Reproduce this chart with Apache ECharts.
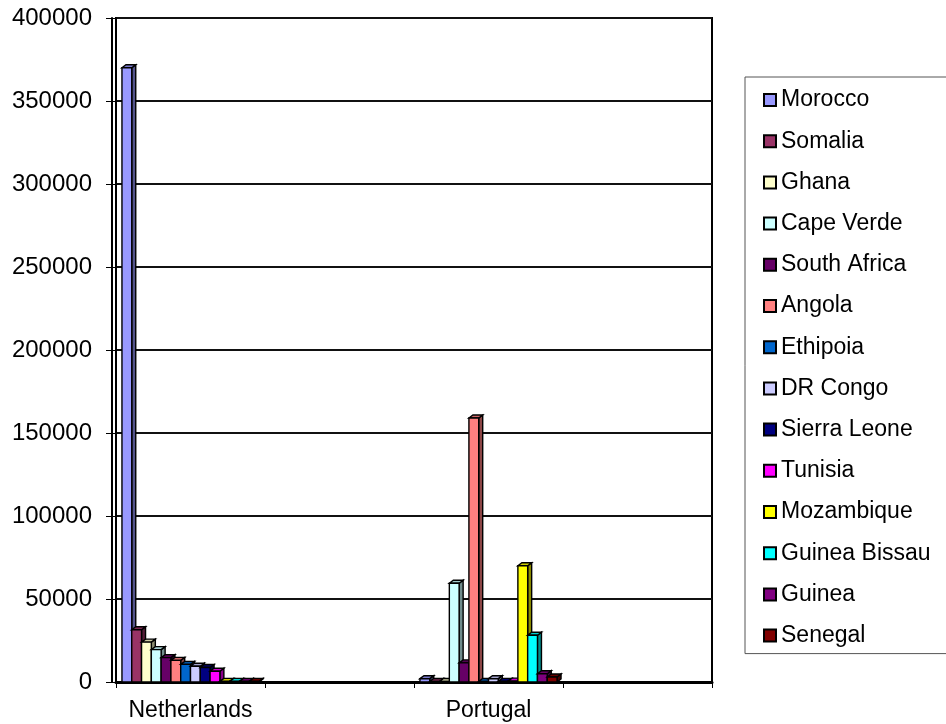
<!DOCTYPE html>
<html>
<head>
<meta charset="utf-8">
<script src="https://cdn.jsdelivr.net/npm/echarts@6/dist/echarts.min.js"></script>
<style>
  html, body { margin: 0; padding: 0; background: #fff; }
  #chart { width: 946px; height: 724px; }
</style>
</head>
<body>
<div id="chart"></div>
<script>
// Host countries on the category axis (unlabelled slots keep the spacing)
const categories = ['Netherlands', '', 'Portugal', ''];

// Countries of origin, one series each
const countries = ['Morocco', 'Somalia', 'Ghana', 'Cape Verde', 'South Africa', 'Angola',
  'Ethipoia', 'DR Congo', 'Sierra Leone', 'Tunisia', 'Mozambique', 'Guinea Bissau',
  'Guinea', 'Senegal'];

// Population counts per host country, in the same order as countries
const netherlands = [370000, 31500, 24000, 19500, 14700, 13000, 10600, 9500, 8700, 6500,
  400, 400, 400, 400];
const portugal = [2000, 300, 300, 59500, 11500, 159000, 300, 2000, 400, 500,
  70000, 28200, 5000, 3000];

// Value axis ticks
const yTicks = [0, 50000, 100000, 150000, 200000, 250000, 300000, 350000, 400000];

const colors = ['#9999FF', '#993366', '#FFFFCC', '#CCFFFF', '#660066', '#FF8080',
  '#0066CC', '#CCCCFF', '#000080', '#FF00FF', '#FFFF00', '#00FFFF', '#800080', '#800000'];

function shade(hex, k) {
  const n = parseInt(hex.slice(1), 16);
  const r = Math.round(((n >> 16) & 255) * k);
  const g = Math.round(((n >> 8) & 255) * k);
  const b = Math.round((n & 255) * k);
  return 'rgb(' + r + ',' + g + ',' + b + ')';
}

const FONT = "'Liberation Sans', Arial, sans-serif";
const GAP = 0.08;      // share of each category band left empty
const DX = 4, DY = 3;  // depth of the extruded faces

const chart = echarts.init(document.getElementById('chart'), null, { renderer: 'canvas' });

const series = countries.map((name, i) => ({
  name: name,
  type: 'custom',
  itemStyle: { color: colors[i] },
  encode: { x: 0, y: 1 },
  data: [[0, netherlands[i]], [2, portugal[i]]],
  renderItem: function (params, api) {
    const cat = api.value(0);
    const base = api.coord([cat, 0]);
    const top = api.coord([cat, api.value(1)]);
    const band = api.size([1, 0])[0];
    const inner = band * (1 - GAP);
    const bw = inner / countries.length;
    const x0 = base[0] - inner / 2 + i * bw;
    const x1 = x0 + bw;
    const yt = top[1], yb = base[1];
    const stroke = { stroke: '#000', lineWidth: 1.4 };
    return {
      type: 'group',
      children: [
        {
          type: 'polygon',
          shape: { points: [[x1, yt], [x1 + DX, yt - DY], [x1 + DX, yb - DY], [x1, yb]] },
          style: Object.assign({ fill: shade(colors[i], 0.55) }, stroke)
        },
        {
          type: 'polygon',
          shape: { points: [[x0, yt], [x0 + DX, yt - DY], [x1 + DX, yt - DY], [x1, yt]] },
          style: Object.assign({ fill: shade(colors[i], 0.8) }, stroke)
        },
        {
          type: 'rect',
          shape: { x: x0, y: yt, width: bw, height: yb - yt },
          style: Object.assign({ fill: colors[i] }, stroke)
        }
      ]
    };
  }
}));

chart.setOption({
  animation: false,
  backgroundColor: '#fff',
  textStyle: { fontFamily: FONT },
  grid: {
    left: 116, right: 234, top: 18, bottom: 42,
    show: true, borderColor: '#000', borderWidth: 2, backgroundColor: 'transparent'
  },
  legend: {
    orient: 'vertical',
    left: 745, top: 77,
    padding: [11, 20, 6, 18],
    itemGap: 17.2,
    itemWidth: 12, itemHeight: 12,
    icon: 'rect',
    borderColor: '#555', borderWidth: 1,
    itemStyle: { borderColor: '#000', borderWidth: 2 },
    textStyle: { fontFamily: FONT, fontSize: 23, color: '#000', lineHeight: 24, padding: [0, 0, 0, 0] },
    data: countries
  },
  xAxis: {
    type: 'category',
    data: categories,
    axisLine: { show: true, lineStyle: { color: '#000', width: 3 } },
    axisTick: { show: true, interval: 0, length: 6, lineStyle: { color: '#000', width: 1 } },
    axisLabel: { interval: 1, margin: 17, fontFamily: FONT, fontSize: 23, color: '#000' },
    splitLine: { show: false }
  },
  yAxis: [
    {
      type: 'value',
      min: yTicks[0], max: yTicks[yTicks.length - 1], interval: yTicks[1] - yTicks[0],
      axisLine: { show: true, lineStyle: { color: '#000', width: 2 } },
      axisTick: { show: true, length: 10, lineStyle: { color: '#000', width: 1 } },
      axisLabel: {
        margin: 24, fontFamily: FONT, fontSize: 24, color: '#000',
        formatter: function (v) { return String(v); }
      },
      splitLine: { show: true, lineStyle: { color: '#111', width: 2 } }
    },
    {
      type: 'value',
      position: 'left', offset: 4,
      min: yTicks[0], max: yTicks[yTicks.length - 1], interval: yTicks[1] - yTicks[0],
      axisLine: { show: true, lineStyle: { color: '#000', width: 2 } },
      axisTick: { show: false },
      axisLabel: { show: false },
      splitLine: { show: false }
    }
  ],
  series: series
});
</script>
</body>
</html>
